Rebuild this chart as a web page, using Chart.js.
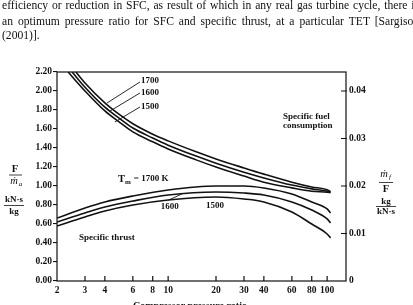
<!DOCTYPE html>
<html>
<head>
<meta charset="utf-8">
<script src="https://cdn.jsdelivr.net/npm/chart.js@4.4.0/dist/chart.umd.min.js"></script>
<style>
  html, body { margin: 0; padding: 0; background: #fff; overflow: hidden; }
  #wrap { position: relative; width: 413px; height: 305px; overflow: hidden; }
  canvas { position: absolute; left: 0; top: 0; }
  .para { position: absolute; left: 2px; font: 11.6px "Liberation Serif", serif; line-height: 12px; color: #111; white-space: nowrap; }
</style>
</head>
<body>
<div id="wrap">
  <canvas id="c" width="413" height="305"></canvas>
  <div class="para fit" style="top:0px">efficiency or reduction in SFC, as result of which in any real gas turbine cycle, there is</div>
  <div class="para fit" style="top:15.5px">an optimum pressure ratio for SFC and specific thrust, at a particular TET [Sargison</div>
  <div class="para" style="top:30px">(2001)].</div>
</div>
<script>
// compressor pressure ratio ticks and axis ticks
const ratioTicks = [2, 3, 4, 6, 8, 10, 20, 30, 40, 60, 80, 100];
const thrustTicks = [0, 0.2, 0.4, 0.6, 0.8, 1.0, 1.2, 1.4, 1.6, 1.8, 2.0, 2.2];
const sfcTicks = [0, 0.01, 0.02, 0.03, 0.04];

// specific thrust, kN.s/kg
const thrustRatio = [2, 3, 4, 6, 10, 20, 30, 40, 60, 80, 100, 105];
const thrust1700 = [0.663, 0.768, 0.832, 0.895, 0.958, 1.000, 1.000, 0.979, 0.916, 0.832, 0.758, 0.716];
const thrust1600 = [0.621, 0.716, 0.779, 0.842, 0.905, 0.937, 0.926, 0.905, 0.832, 0.747, 0.653, 0.611];
const thrust1500 = [0.579, 0.674, 0.737, 0.800, 0.853, 0.884, 0.863, 0.832, 0.726, 0.600, 0.495, 0.453];

// specific fuel consumption, kg/kN.s
const sfcRatio1700 = [2.63, 3, 4, 5, 6, 8, 10, 15, 20, 30, 40, 60, 80, 100, 105];
const sfcRatio1600 = [2.49, 3, 4, 5, 6, 8, 10, 15, 20, 30, 40, 60, 80, 100, 105];
const sfcRatio1500 = [2.35, 3, 4, 5, 6, 8, 10, 15, 20, 30, 40, 60, 80, 100, 105];
const sfc1700 = [0.0440, 0.0417, 0.0375, 0.0349, 0.0331, 0.0309, 0.0295, 0.0272, 0.0257, 0.0238, 0.0225, 0.0208, 0.0198, 0.0192, 0.0188];
const sfc1600 = [0.0440, 0.0408, 0.0366, 0.0341, 0.0322, 0.0301, 0.0286, 0.0263, 0.0248, 0.0229, 0.0217, 0.0202, 0.0194, 0.0189, 0.0187];
const sfc1500 = [0.0440, 0.0400, 0.0358, 0.0333, 0.0314, 0.0293, 0.0278, 0.0255, 0.0240, 0.0221, 0.0208, 0.0196, 0.0189, 0.0187, 0.0186];

const pts = (xs, ys) => xs.map((x, i) => ({x: x, y: ys[i]}));
const ink = '#111';
const serif = '"Liberation Serif", "Times New Roman", serif';

// justify the cut-off paragraph lines to the scanned width
document.querySelectorAll('.fit').forEach(el => {
  const gaps = el.textContent.split(' ').length - 1;
  const extra = (417 - el.getBoundingClientRect().width) / gaps;
  el.style.wordSpacing = extra + 'px';
});

function curve(xs, ys, axis) {
  return {
    data: pts(xs, ys), yAxisID: axis,
    borderColor: ink, borderWidth: 1.6, pointRadius: 0,
    fill: false, cubicInterpolationMode: 'monotone'
  };
}

// labels placed in data space (x = pressure ratio, y = left axis value)
const notes = [
  {text: '1700', x: 6.75, y: 2.105},
  {text: '1600', x: 6.75, y: 1.979},
  {text: '1500', x: 6.75, y: 1.832},
  {text: '1600', x: 9.0, y: 0.779},
  {text: '1500', x: 17.3, y: 0.789},
  {text: 'Specific thrust', x: 2.75, y: 0.453},
  {text: 'Specific fuel', x: 52.8, y: 1.726},
  {text: 'consumption', x: 52.8, y: 1.632}
];
const leaders = [
  [6.65, 2.095, 4.13, 1.874],
  [6.65, 1.979, 4.31, 1.789],
  [6.65, 1.832, 4.63, 1.674],
  [10.1, 0.853, 12.2, 0.916]
];

const decor = {
  id: 'decor',
  afterDraw(chart) {
    const ctx = chart.ctx, a = chart.chartArea;
    const sx = chart.scales.x, sy = chart.scales.y, s1 = chart.scales.y1;
    ctx.save();
    ctx.strokeStyle = ink;
    ctx.lineWidth = 1.2;
    ctx.strokeRect(a.left, a.top, a.right - a.left, a.bottom - a.top);

    // inward ticks on bottom and right axes
    ctx.beginPath();
    ratioTicks.slice(1).forEach(v => {
      const p = sx.getPixelForValue(v);
      ctx.moveTo(p, a.bottom); ctx.lineTo(p, a.bottom - 5);
    });
    sfcTicks.slice(1).forEach(v => {
      const p = s1.getPixelForValue(v);
      ctx.moveTo(a.right + 1, p); ctx.lineTo(a.right - 5, p);
    });
    ctx.stroke();

    // leader lines
    ctx.lineWidth = 0.9;
    ctx.beginPath();
    leaders.forEach(l => {
      ctx.moveTo(sx.getPixelForValue(l[0]), sy.getPixelForValue(l[1]));
      ctx.lineTo(sx.getPixelForValue(l[2]), sy.getPixelForValue(l[3]));
    });
    ctx.stroke();

    ctx.fillStyle = ink;
    ctx.textBaseline = 'middle';
    ctx.textAlign = 'left';
    ctx.font = 'bold 9px ' + serif;
    notes.forEach(n => {
      ctx.fillText(n.text, sx.getPixelForValue(n.x), sy.getPixelForValue(n.y));
    });

    // T_m = 1700 K
    let tx = sx.getPixelForValue(4.84), ty = sy.getPixelForValue(1.074);
    ctx.font = 'bold 10.5px ' + serif;
    ctx.fillText('T', tx, ty);
    tx += ctx.measureText('T').width;
    ctx.font = 'bold 7px ' + serif;
    ctx.fillText('m', tx, ty + 3);
    tx += ctx.measureText('m').width + 3;
    ctx.font = 'bold 9px ' + serif;
    ctx.fillText('= 1700 K', tx, ty);

    // axis titles
    ctx.textAlign = 'center';
    const frac = (cx, top, bot, yTop, yBar, yBot, w) => {
      ctx.fillText(top, cx, yTop);
      ctx.fillText(bot, cx, yBot);
      ctx.lineWidth = 0.8;
      ctx.beginPath(); ctx.moveTo(cx - w / 2, yBar); ctx.lineTo(cx + w / 2, yBar); ctx.stroke();
    };
    ctx.font = 'bold 10.5px ' + serif;
    ctx.fillText('F', 15, 169);
    ctx.font = 'italic 10.5px ' + serif;
    ctx.fillText('\u1E41', 14, 181);
    ctx.font = 'italic 7px ' + serif;
    ctx.fillText('a', 20.5, 184);
    ctx.lineWidth = 0.8;
    ctx.beginPath(); ctx.moveTo(9, 175); ctx.lineTo(22, 175); ctx.stroke();
    ctx.font = 'bold 9px ' + serif;
    frac(14, 'kN\u00B7s', 'kg', 200, 205.5, 211.5, 20);

    ctx.font = 'italic 10.5px ' + serif;
    ctx.fillText('\u1E41', 384, 174);
    ctx.font = 'italic 7px ' + serif;
    ctx.fillText('f', 390, 177);
    ctx.beginPath(); ctx.moveTo(379, 182.5); ctx.lineTo(393, 182.5); ctx.stroke();
    ctx.font = 'bold 10.5px ' + serif;
    ctx.fillText('F', 386, 189);
    ctx.font = 'bold 9px ' + serif;
    frac(386, 'kg', 'kN\u00B7s', 201.5, 206.5, 212, 20);

    ctx.font = 'bold 10px ' + serif;
    ctx.fillText('Compressor pressure ratio', 190, 306);
    ctx.restore();
  }
};

const tickFont = {family: serif, size: 9.5, weight: 'bold'};

new Chart(document.getElementById('c').getContext('2d'), {
  type: 'line',
  data: {
    datasets: [
      curve(thrustRatio, thrust1700, 'y'),
      curve(thrustRatio, thrust1600, 'y'),
      curve(thrustRatio, thrust1500, 'y'),
      curve(sfcRatio1700, sfc1700, 'y1'),
      curve(sfcRatio1600, sfc1600, 'y1'),
      curve(sfcRatio1500, sfc1500, 'y1')
    ]
  },
  options: {
    responsive: false,
    animation: false,
    layout: {padding: {top: 72, left: 0, right: 0, bottom: 0}},
    plugins: {legend: {display: false}, tooltip: {enabled: false}},
    scales: {
      x: {
        type: 'logarithmic', min: 2, max: 131.4,
        afterBuildTicks: s => { s.ticks = ratioTicks.map(v => ({value: v})); },
        afterFit: s => { s.height = 24; },
        grid: {display: false, drawTicks: false},
        border: {display: false},
        ticks: {color: ink, font: tickFont, padding: 4, autoSkip: false, maxRotation: 0,
                callback: v => String(v)}
      },
      y: {
        position: 'left', min: 0, max: 2.2,
        afterBuildTicks: s => { s.ticks = thrustTicks.map(v => ({value: v})); },
        afterFit: s => { s.width = 57; },
        grid: {drawOnChartArea: false, drawTicks: true, tickLength: 4, color: ink, lineWidth: 1.1},
        border: {display: false},
        ticks: {color: ink, font: tickFont, padding: 1, callback: v => v.toFixed(2)}
      },
      y1: {
        position: 'right', min: 0, max: 0.044,
        afterBuildTicks: s => { s.ticks = sfcTicks.map(v => ({value: v})); },
        afterFit: s => { s.width = 67; },
        grid: {display: false, drawTicks: false},
        border: {display: false},
        ticks: {color: ink, font: tickFont, padding: 3, callback: v => v === 0 ? '0' : v.toFixed(2)}
      }
    }
  },
  plugins: [decor]
});
</script>
</body>
</html>
